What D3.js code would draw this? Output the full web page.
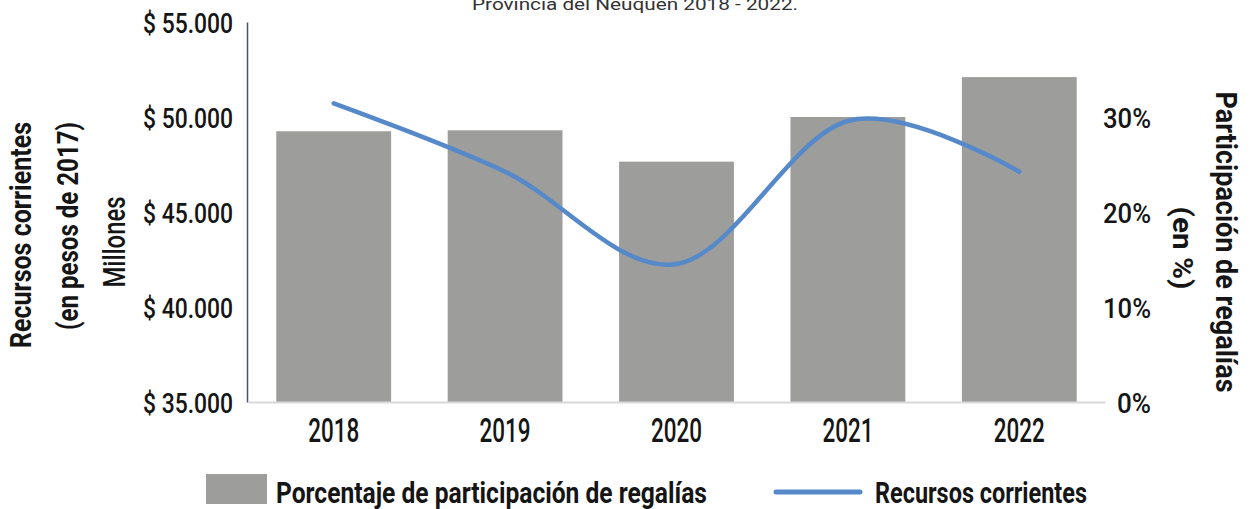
<!DOCTYPE html>
<html>
<head>
<meta charset="utf-8">
<script src="https://cdn.jsdelivr.net/npm/d3@7"></script>
<style>
  body { margin: 0; background: #fff; }
  text { font-family: Roboto, "Liberation Sans", sans-serif; }
</style>
</head>
<body>
<div id="chart"></div>
<script>
// datos
const years = ["2018", "2019", "2020", "2021", "2022"];
const participacion = [0.285, 0.286, 0.253, 0.300, 0.342];   // barras (eje der.)
const recursos = [50720, 47120, 42260, 49790, 47120];        // linea (eje izq., millones)
const leftTicks = [35000, 40000, 45000, 50000, 55000];
const rightTicks = [0, 0.1, 0.2, 0.3];

const W = 1251, H = 509;
const PLOT = { LEFT: 248, RIGHT: 1105, TOP: 22, BOTTOM: 402 };
const BAR_COLOR = "#9d9d9c";
const LINE_COLOR = "#5689c9";
const INK = "#151515";

const svg = d3.select("#chart").append("svg")
  .attr("width", W)
  .attr("height", H);

const x = d3.scaleBand()
  .domain(years)
  .range([PLOT.LEFT, PLOT.RIGHT])
  .paddingInner(0.33)
  .paddingOuter(0.165);

const yLeft = d3.scaleLinear()
  .domain([35000, 55000])
  .range([PLOT.BOTTOM, PLOT.TOP]);

const yRight = d3.scaleLinear()
  .domain([0, 0.4])
  .range([PLOT.BOTTOM, PLOT.TOP]);

const es = d3.formatLocale({ decimal: ",", thousands: ".", grouping: [3], currency: ["$ ", ""] });
const fmtMoney = es.format(",.0f");

// titulo (cortado arriba, como en el original)
svg.append("text")
  .attr("x", 635)
  .attr("y", 10)
  .attr("text-anchor", "middle")
  .attr("font-family", "'Open Sans', sans-serif")
  .attr("font-size", "17px")
  .attr("fill", "#333")
  .attr("textLength", 326)
  .attr("lengthAdjust", "spacingAndGlyphs")
  .text("Provincia del Neuquén 2018 - 2022.");

// barras
svg.append("g").selectAll("rect")
  .data(years)
  .enter().append("rect")
  .attr("x", d => x(d))
  .attr("y", (d, i) => yRight(participacion[i]))
  .attr("width", x.bandwidth())
  .attr("height", (d, i) => PLOT.BOTTOM - yRight(participacion[i]))
  .attr("fill", BAR_COLOR);

// eje x
const xAxis = svg.append("g")
  .attr("transform", `translate(0, ${PLOT.BOTTOM})`)
  .call(d3.axisBottom(x).tickSize(0).tickSizeOuter(0));
xAxis.select(".domain")
  .attr("stroke", "#d9d9d9")
  .attr("stroke-width", 2);
xAxis.selectAll("text")
  .attr("y", 40)
  .attr("dy", null)
  .attr("font-size", "33px")
  .attr("font-weight", 500)
  .attr("fill", INK)
  .attr("textLength", 51)
  .attr("lengthAdjust", "spacingAndGlyphs");

// eje izquierdo
const yAxisL = svg.append("g")
  .attr("transform", `translate(${PLOT.LEFT - 1}, 0)`)
  .call(d3.axisLeft(yLeft).tickValues(leftTicks).tickSize(0).tickSizeOuter(0)
    .tickPadding(14).tickFormat(d => "$ " + fmtMoney(d)));
yAxisL.select(".domain")
  .attr("stroke", "#44546a")
  .attr("stroke-width", 1.5);
yAxisL.selectAll("text")
  .attr("dy", "0.36em")
  .attr("font-size", "28px")
  .attr("font-weight", 500)
  .attr("fill", INK)
  .attr("textLength", 90)
  .attr("lengthAdjust", "spacingAndGlyphs");

// eje derecho
const yAxisR = svg.append("g")
  .attr("transform", `translate(${PLOT.RIGHT}, 0)`)
  .call(d3.axisRight(yRight).tickValues(rightTicks).tickSize(0)
    .tickFormat(d3.format(".0%")));
yAxisR.select(".domain").remove();
yAxisR.selectAll("text")
  .attr("x", 46)
  .attr("dy", "0.36em")
  .attr("text-anchor", "end")
  .attr("font-size", "28px")
  .attr("font-weight", 500)
  .attr("fill", INK)
  .attr("textLength", d => d === 0 ? 34 : 48)
  .attr("lengthAdjust", "spacingAndGlyphs");

// linea suavizada
const line = d3.line()
  .x((d, i) => x(years[i]) + x.bandwidth() / 2)
  .y(d => yLeft(d))
  .curve(d3.curveCardinal.tension(0));

svg.append("path")
  .datum(recursos)
  .attr("d", line)
  .attr("fill", "none")
  .attr("stroke", LINE_COLOR)
  .attr("stroke-width", 4.5)
  .attr("stroke-linecap", "round");

// titulos de ejes
function rotLabel(txt, tx, ty, rot, size, weight, len) {
  svg.append("text")
    .attr("transform", `translate(${tx}, ${ty}) rotate(${rot})`)
    .attr("text-anchor", "middle")
    .attr("font-size", size + "px")
    .attr("font-weight", weight)
    .attr("fill", INK)
    .attr("textLength", len)
    .attr("lengthAdjust", "spacingAndGlyphs")
    .text(txt);
}
rotLabel("Recursos corrientes", 31, 235, -90, 30, "bold", 226);
rotLabel("(en pesos de 2017)", 78, 226, -90, 30, "bold", 208);
rotLabel("Millones", 125, 242, -90, 32, 500, 91);
rotLabel("Participación de regalías", 1216, 242, 90, 30, "bold", 301);
rotLabel("(en %)", 1173, 248, 90, 28, "bold", 83);

// leyenda
const legend = svg.append("g");
legend.append("rect")
  .attr("x", 206).attr("y", 474)
  .attr("width", 61).attr("height", 30)
  .attr("fill", BAR_COLOR);
legend.append("text")
  .attr("x", 276).attr("y", 503)
  .attr("font-size", "30px").attr("font-weight", "bold")
  .attr("fill", INK)
  .attr("textLength", 431).attr("lengthAdjust", "spacingAndGlyphs")
  .text("Porcentaje de participación de regalías");
legend.append("line")
  .attr("x1", 776).attr("x2", 860)
  .attr("y1", 492).attr("y2", 492)
  .attr("stroke", LINE_COLOR)
  .attr("stroke-width", 5)
  .attr("stroke-linecap", "round");
legend.append("text")
  .attr("x", 875).attr("y", 503)
  .attr("font-size", "30px").attr("font-weight", "bold")
  .attr("fill", INK)
  .attr("textLength", 212).attr("lengthAdjust", "spacingAndGlyphs")
  .text("Recursos corrientes");
</script>
</body>
</html>
